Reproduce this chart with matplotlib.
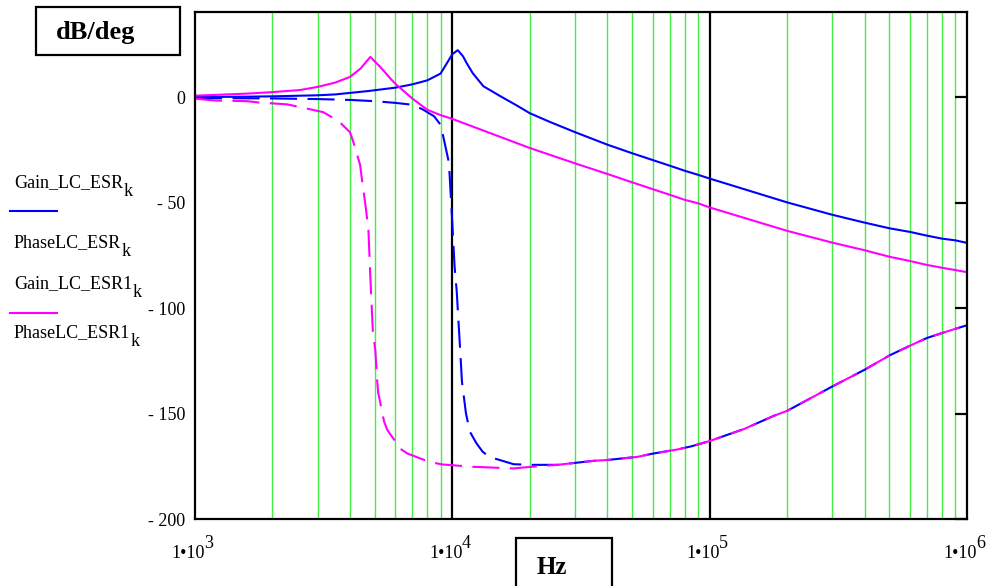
#!/usr/bin/env python
''' Bode plot of the LC filter, with and without ESR (Mathcad style redraw) '''

import numpy as np
import matplotlib
matplotlib.use('Agg')
import matplotlib.pyplot as plt
from matplotlib.patches import Rectangle
from matplotlib.transforms import offset_copy

plt.rcParams['font.family'] = ['Liberation Serif', 'DejaVu Serif']

##### DATA #############################
# Gain_LC_ESR  (blue, solid)
f_gain = [1e3, 1.5e3, 2e3, 3e3, 3.5e3, 4.7e3, 6e3, 7e3, 8e3, 9e3, 9.5e3, 1e4,
          1.05e4, 1.1e4, 1.14e4, 1.2e4, 1.32e4, 1.54e4, 1.79e4, 2e4, 2.4e4, 3e4,
          4e4, 5e4, 6e4, 7e4, 8e4, 9e4, 1e5, 2e5, 3e5, 4e5, 5e5, 6e5, 7e5,
          8e5, 9e5, 1e6]
gain_esr = [0.2, 0.3, 0.5, 1.0, 1.4, 3.0, 4.6, 6.2, 8.1, 11.3, 16.0, 20.5,
            22.4, 19.5, 16.0, 11.5, 5.3, 0.5, -4.0, -7.5, -11.7, -16.5,
            -22.4, -26.5, -29.7, -32.4, -34.8, -36.7, -38.5, -49.8, -55.7, -59.4,
            -62.1, -63.8, -65.6, -67.0, -67.8, -69.0]

# Gain_LC_ESR1  (magenta, solid)
f_gain1 = [1e3, 1.6e3, 2e3, 2.56e3, 3e3, 3.5e3, 4e3, 4.4e3, 4.8e3, 5e3, 5.25e3,
           5.75e3, 6e3, 7e3, 8e3, 9e3, 1e4, 2e4, 3e4, 4e4, 5e4, 6e4, 7e4, 8e4,
           9e4, 1e5, 2e5, 3e5, 4e5, 5e5, 6e5, 7e5, 8e5, 9e5, 1e6]
gain_esr1 = [0.8, 1.8, 2.5, 3.5, 5.0, 7.0, 9.7, 13.7, 19.2, 17.0, 14.4,
             8.9, 6.5, -0.6, -5.9, -8.4, -10.2, -24.0, -31.3, -36.3, -40.3, -43.5,
             -46.2, -48.6, -50.2, -52.2, -63.3, -68.9, -72.5, -75.6, -77.6, -79.5,
             -80.8, -81.9, -82.9]

# PhaseLC_ESR  (blue, dashed)
f_phase = [1e3, 2e3, 3e3, 4e3, 5e3, 6e3, 7e3, 7.7e3, 8.5e3, 9e3, 9.2e3, 9.7e3,
           1e4, 1.02e4, 1.04e4, 1.055e4, 1.075e4, 1.09e4, 1.13e4, 1.17e4,
           1.24e4, 1.31e4, 1.39e4, 1.73e4, 2e4, 2.56e4, 3.54e4, 4e4, 5.25e4,
           6e4, 7.5e4, 8.5e4, 1e5, 1.36e5, 1.78e5, 2e5, 3e5, 4e5, 5e5, 6e5,
           7e5, 8e5, 9e5, 1e6]
phase_esr = [-0.3, -0.5, -0.8, -1.2, -1.8, -2.6, -3.5, -5.8, -9.0, -13.0, -18.0,
             -31.0, -60.0, -80.0, -92.0, -105.0, -122.0, -135.0, -150.0, -158.6,
             -164.0, -168.0, -170.5, -174.0, -174.3, -174.3, -172.4, -172.0,
             -170.5, -169.0, -167.0, -165.5, -163.0, -157.3, -151.0, -148.7,
             -137.1, -129.2, -122.4, -117.8, -114.1, -111.8, -109.8, -108.1]

# PhaseLC_ESR1  (magenta, dashed)
f_phase1 = [1e3, 1.2e3, 1.6e3, 1.76e3, 2.28e3, 2.56e3, 3.15e3, 3.4e3, 3.7e3,
            4e3, 4.12e3, 4.38e3, 4.45e3, 4.61e3, 4.72e3, 4.8e3, 4.91e3, 5.02e3,
            5.1e3, 5.15e3, 5.43e3, 5.58e3, 6.28e3, 6.68e3, 8.14e3, 9.12e3,
            1.19e4, 1.73e4, 2e4, 2.56e4, 3.54e4, 4e4, 5.25e4, 6e4, 7.5e4,
            8.5e4, 1e5, 1.36e5, 1.78e5, 2e5, 3e5, 4e5, 5e5, 6e5, 7e5, 8e5,
            9e5, 1e6]
phase_esr1 = [-0.6, -1.5, -1.8, -2.4, -3.3, -4.6, -7.0, -9.4, -12.5, -16.5,
              -21.0, -32.0, -38.6, -52.4, -63.0, -85.0, -111.0, -120.0, -134.0,
              -140.0, -153.8, -157.6, -166.7, -168.9, -172.9, -174.1, -175.2,
              -176.0, -175.3, -174.3, -172.4, -172.0, -170.5, -169.0, -167.0,
              -165.5, -163.0, -157.3, -151.0, -148.7, -137.1, -129.2, -122.4,
              -117.8, -114.1, -111.8, -109.8, -108.1]

y_ticks = [0, -50, -100, -150, -200]
y_labels = ['0', '- 50', '- 100', '- 150', '- 200']
x_ticks = [1e3, 1e4, 1e5, 1e6]
x_exps = ['3', '4', '5', '6']
legend_names = ['Gain_LC_ESR', 'PhaseLC_ESR', 'Gain_LC_ESR1', 'PhaseLC_ESR1']
########################

BLUE = '#0000ff'
MAG = '#ff00ff'
GREEN = '#44ee44'
DASH = (0, (13, 5))
FS = 13

fig = plt.figure(figsize=(9.88, 5.86), dpi=100)
ax = fig.add_axes([0.1974, 0.1143, 0.7813, 0.8652])

# grid: green for 2..9, black at the inner decades
for dec in [1e3, 1e4, 1e5]:
    for m in range(2, 10):
        ax.axvline(m*dec, color=GREEN, lw=1.0, zorder=1)
for dec in [1e4, 1e5]:
    ax.axvline(dec, color='black', lw=1.6, zorder=1)

ax.plot(f_gain, gain_esr, color=BLUE, lw=1.5, zorder=3)
ax.plot(f_phase, phase_esr, color=BLUE, lw=1.5, ls=DASH, zorder=3)
ax.plot(f_gain1, gain_esr1, color=MAG, lw=1.5, zorder=4)
ax.plot(f_phase1, phase_esr1, color=MAG, lw=1.5, ls=DASH, zorder=4)

ax.set_xscale('log')
ax.set_xlim(1e3, 1e6)
ax.set_ylim(-200, 40.5)
ax.set_xticks(x_ticks)
ax.set_xticklabels([])
ax.minorticks_off()
ax.set_yticks(y_ticks)
ax.set_yticklabels(y_labels, fontsize=FS)
ax.tick_params(axis='x', length=0)
ax.tick_params(axis='y', which='both', left=False, right=True, direction='in',
               length=9, width=1.6, pad=7)
for s in ax.spines.values():
    s.set_linewidth(1.6)
    s.set_zorder(5)

# x tick labels: 1*10^n with a full size exponent (Mathcad look)
xt = ax.get_xaxis_transform()
for f, e in zip(x_ticks, x_exps):
    ax.text(f, 0, '1\u202210', fontsize=FS, ha='right', va='baseline',
            transform=offset_copy(xt, fig=fig, x=10, y=-39, units='dots'),
            clip_on=False)
    ax.text(f, 0, e, fontsize=FS, ha='left', va='baseline',
            transform=offset_copy(xt, fig=fig, x=9, y=-29, units='dots'),
            clip_on=False)

# legend on the left, Mathcad style (subscript k at full size)
renderer = fig.canvas.get_renderer()
legend_base = [187, 247, 288, 337]
for name, yb in zip(legend_names, legend_base):
    t = fig.text(14/988, 1-yb/586, name, fontsize=FS, va='baseline')
    x1 = t.get_window_extent(renderer).x1
    fig.text(x1/988 + 0.5/988, 1-(yb+9)/586, 'k', fontsize=FS, va='baseline')
fig.add_artist(plt.Line2D([10/988, 57/988], [1-211/586, 1-211/586],
                          color=BLUE, lw=1.5, transform=fig.transFigure))
fig.add_artist(plt.Line2D([10/988, 57/988], [1-313/586, 1-313/586],
                          color=MAG, lw=1.5, transform=fig.transFigure))

# axis title boxes
fig.add_artist(Rectangle((36/988, 1-55/586), 144/988, 48/586, fill=False,
                         lw=1.6, edgecolor='black', transform=fig.transFigure))
fig.text(96/988, 1-33/586, 'dB/deg', fontsize=19, fontweight='bold',
         ha='center', va='center')
fig.add_artist(Rectangle((516/988, -0.02), 96/988, 48/586 + 0.02, fill=False,
                         lw=1.6, edgecolor='black', transform=fig.transFigure))
fig.text(552/988, 1-567/586, 'Hz', fontsize=18, fontweight='bold',
         ha='center', va='center')

plt.savefig('out.png', dpi=100)
